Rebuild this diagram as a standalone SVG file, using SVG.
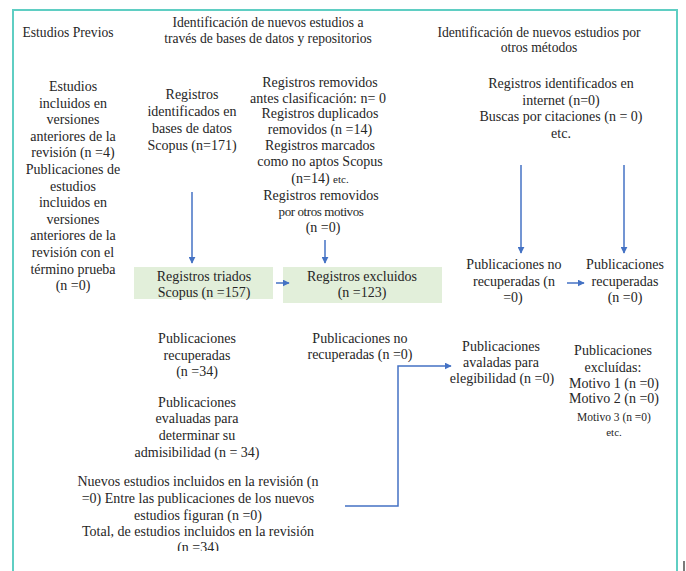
<svg xmlns="http://www.w3.org/2000/svg" width="686" height="571" viewBox="0 0 686 571">
<style>
  text { font-family: "Liberation Serif", "DejaVu Serif", "Times New Roman", serif; font-size: 14px; fill: #262626; text-anchor: middle; }
  .sm { font-size: 11px; }
  .hd { font-size: 13.6px; }
  .box { fill: #e2efda; stroke: none; }
  .conn { stroke: #4472c4; stroke-width: 1.5; fill: none; }
</style>
<defs>
  <marker id="ah" viewBox="0 0 10 10" refX="9" refY="5" markerWidth="7" markerHeight="7" markerUnits="userSpaceOnUse" orient="auto">
    <path d="M0,0 L10,5 L0,10 z" fill="#4472c4"/>
  </marker>
  <clipPath id="clipBottom"><rect x="0" y="0" width="686" height="551"/></clipPath>
</defs>
<rect width="686" height="571" fill="#ffffff"/>
<rect id="frame" x="13" y="10" width="664" height="620" fill="none" stroke="#5fcec3" stroke-width="2"/>
<line x1="684" y1="561" x2="684" y2="571" stroke="#222" stroke-width="1.2"/>

<g id="headers">
  <text class="hd" x="68" y="37">Estudios Previos</text>
  <text class="hd" x="268" y="27">Identificación de nuevos estudios a</text>
  <text class="hd" x="268" y="43">través de bases de datos y repositorios</text>
  <text class="hd" x="539" y="37">Identificación de nuevos estudios por</text>
  <text class="hd" x="539" y="52">otros métodos</text>
</g>

<g id="n-previos">
  <text x="73" y="91">Estudios<tspan x="73" dy="16.6">incluidos en</tspan><tspan x="73" dy="16.6">versiones</tspan><tspan x="73" dy="16.6">anteriores de la</tspan><tspan x="73" dy="16.6">revisión (n =4)</tspan><tspan x="73" dy="16.6">Publicaciones de</tspan><tspan x="73" dy="16.6">estudios</tspan><tspan x="73" dy="16.6">incluidos en</tspan><tspan x="73" dy="16.6">versiones</tspan><tspan x="73" dy="16.6">anteriores de la</tspan><tspan x="73" dy="16.6">revisión con el</tspan><tspan x="73" dy="16.6">término prueba</tspan><tspan x="73" dy="16.6">(n =0)</tspan></text>
</g>

<g id="n-identificados">
  <text x="192" y="99">Registros<tspan x="192" dy="17">identificados en</tspan><tspan x="192" dy="17">bases de datos</tspan><tspan x="192" dy="17">Scopus (n=171)</tspan></text>
</g>

<g id="n-removidos">
  <text x="320" y="87">Registros removidos<tspan x="318" dy="15.5">antes clasificación: n= 0</tspan><tspan x="320" dy="15.5">Registros duplicados</tspan><tspan x="320" dy="15.5">removidos (n =14)</tspan><tspan x="320" dy="16.5">Registros marcados</tspan><tspan x="320" dy="16">como no aptos Scopus</tspan></text>
  <text x="320" y="183">(n=14) <tspan class="sm">etc.</tspan></text>
  <text x="321" y="200">Registros removidos</text>
  <text x="321" y="215.5" style="font-size:13px;letter-spacing:-0.4px">por otros motivos</text>
  <text x="323" y="232">(n =0)</text>
</g>

<g id="n-otros">
  <text x="561" y="88">Registros identificados en<tspan x="561" dy="16.5">internet (n=0)</tspan><tspan x="561" dy="16.5">Buscas por citaciones (n = 0)</tspan><tspan x="561" dy="16.5">etc.</tspan></text>
</g>

<g id="n-triados">
  <rect class="box" x="134" y="267" width="139" height="32"/>
  <text x="204" y="281">Registros triados<tspan x="204" dy="16">Scopus (n =157)</tspan></text>
</g>

<g id="n-excluidos">
  <rect class="box" x="283" y="267" width="159" height="36"/>
  <text x="362" y="281">Registros excluidos<tspan x="362" dy="16">(n =123)</tspan></text>
</g>

<g id="n-no-recuperadas-otros">
  <text x="514" y="269">Publicaciones no<tspan x="514" dy="16.5">recuperadas (n</tspan><tspan x="513" dy="16.5">=0)</tspan></text>
</g>

<g id="n-recuperadas-otros">
  <text x="625" y="269">Publicaciones<tspan x="625" dy="16.5">recuperadas</tspan><tspan x="625" dy="16.5">(n =0)</tspan></text>
</g>

<g id="n-recuperadas">
  <text x="197" y="343">Publicaciones<tspan x="197" dy="16.5">recuperadas</tspan><tspan x="197" dy="16.5">(n =34)</tspan></text>
</g>

<g id="n-no-recuperadas">
  <text x="360" y="343">Publicaciones no<tspan x="360" dy="16">recuperadas (n =0)</tspan></text>
</g>

<g id="n-avaladas">
  <text x="501" y="351">Publicaciones<tspan x="501" dy="15.5">avaladas para</tspan><tspan x="502" dy="16.5">elegibilidad (n =0)</tspan></text>
</g>

<g id="n-excluidas">
  <text x="613" y="355">Publicaciones<tspan x="613" dy="16.5">excluídas:</tspan><tspan x="614" dy="16">Motivo 1 (n =0)</tspan><tspan x="614" dy="15.5">Motivo 2 (n =0)</tspan></text>
  <text x="614" y="421" style="font-size:11.5px">Motivo  3 (n =0)</text>
  <text x="614" y="436" class="sm">etc.</text>
</g>

<g id="n-evaluadas">
  <text x="197" y="407">Publicaciones<tspan x="197" dy="16">evaluadas para</tspan><tspan x="197" dy="16.5">determinar su</tspan><tspan x="197" dy="17">admisibilidad (n = 34)</tspan></text>
</g>

<g id="n-incluidos" clip-path="url(#clipBottom)">
  <text x="198" y="486">Nuevos estudios incluidos en la revisión (n<tspan x="198" dy="16.5">=0) Entre las publicaciones de los nuevos</tspan><tspan x="198" dy="17">estudios figuran (n =0)</tspan><tspan x="198" dy="16.5">Total, de estudios incluidos en la revisión</tspan><tspan x="198" dy="16">(n =34)</tspan></text>
</g>

<g id="connectors">
  <line class="conn" x1="192" y1="192" x2="192" y2="263" marker-end="url(#ah)"/>
  <line class="conn" x1="325" y1="240" x2="325" y2="263" marker-end="url(#ah)"/>
  <line class="conn" x1="276" y1="283" x2="289" y2="283" marker-end="url(#ah)"/>
  <line class="conn" x1="521" y1="165" x2="521" y2="253" marker-end="url(#ah)"/>
  <line class="conn" x1="624" y1="165" x2="624" y2="253" marker-end="url(#ah)"/>
  <line class="conn" x1="567" y1="283" x2="584" y2="283" marker-end="url(#ah)"/>
  <polyline class="conn" points="345,506 398,506 398,366 451,366" marker-end="url(#ah)"/>
</g>
</svg>
